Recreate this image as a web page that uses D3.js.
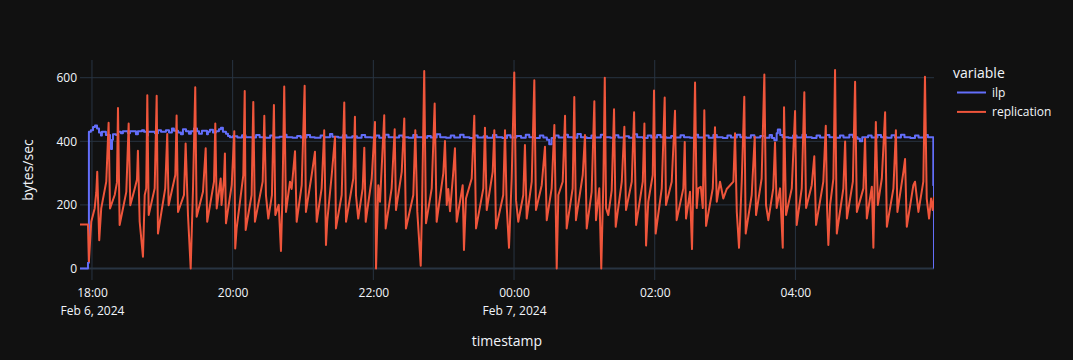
<!DOCTYPE html>
<html><head><meta charset="utf-8">
<script src="https://cdn.jsdelivr.net/npm/d3@7"></script>
<style>html,body{margin:0;padding:0;background:#111111;}svg{display:block;}</style>
</head><body>
<svg id="chart" width="1073" height="360"></svg>
<script>
// ---- DATA (minutes after 2024-02-06 18:00) ----
const seriesNames = ["ilp", "replication"];
const seriesColors = ["#636efa", "#EF553B"];

const replMinutes = [-10.2,-3.4,-2.6,-0.6,2.3,3.7,4.5,6.2,7.9,12.2,14.2,15.4,19.4,21.3,22.2,23.6,29.3,31.3,32.7,36.4,38.4,39.2,40.7,43.5,45.0,46.3,47.2,48.4,53.5,55.2,56.3,62.5,64.2,65.4,71.1,72.2,73.4,78.5,79.9,81.9,84.2,86.2,88.1,89.3,94.7,97.0,98.3,104.1,105.2,106.4,109.8,110.5,112.6,113.4,114.3,119.2,121.4,122.2,123.4,129.1,130.3,131.1,136.2,137.6,139.0,145.6,147.0,148.4,150.4,153.5,155.2,156.4,159.3,161.2,162.5,164.0,165.5,168.9,170.3,173.2,174.6,178.9,181.4,182.5,187.4,190.2,191.7,195.9,198.1,199.6,200.7,204.5,207.3,208.1,213.0,215.2,216.7,222.9,224.3,225.2,227.1,230.9,232.3,233.5,238.6,241.4,242.3,244.2,245.7,249.3,250.5,255.6,258.2,259.3,264.2,266.4,267.8,274.1,275.8,277.5,280.4,281.5,283.4,284.9,289.8,292.3,294.0,299.7,301.1,302.6,303.9,305.4,307.9,309.6,311.1,316.2,317.3,319.0,323.9,326.1,327.6,333.8,335.2,336.7,341.8,343.2,344.6,350.8,352.3,353.7,355.7,358.0,360.2,361.7,363.6,367.9,369.3,370.8,375.1,377.3,378.7,383.6,386.4,387.9,392.1,394.4,396.4,397.8,401.5,403.5,404.9,410.0,411.4,412.8,418.6,420.5,422.0,426.2,428.5,429.9,432.7,434.4,436.2,437.4,438.5,440.4,443.3,445.3,446.7,451.9,454.1,455.5,460.4,462.4,464.1,469.8,471.2,472.6,474.5,478.3,479.4,480.8,486.0,488.5,489.6,494.5,497.3,498.7,504.4,505.6,506.7,510.1,511.8,512.9,514.4,515.8,517.2,519.3,521.0,522.3,523.8,529.5,531.4,532.9,535.7,538.5,541.4,547.1,548.5,550.0,551.9,554.2,556.4,557.6,562.7,565.3,566.4,571.2,573.5,574.9,576.9,581.1,582.6,584.0,586.9,589.2,590.3,592.0,596.9,599.7,601.1,605.4,607.6,609.1,613.9,616.1,617.6,623.8,625.9,627.0,628.1,629.6,632.4,633.8,635.3,640.9,642.4,643.9,649.0,650.9,652.4,658.0,659.4,660.9,665.2,666.5,668.6,670.3,673.7,676.5,678.0,683.6,685.7,687.0,692.1,693.5,695.0,700.6,702.0,704.9,709.1,710.5,712.0,714.0,715.7,717.1,718.2];
const replValues = [138,138,23,147,189,240,304,89,189,273,458,189,231,270,505,137,241,456,199,250,280,370,147,37,231,252,545,168,252,543,110,252,423,199,294,481,178,231,393,168,0,252,570,163,241,378,147,273,456,189,283,200,280,362,142,262,432,63,126,294,558,121,231,524,147,273,480,231,157,231,514,168,200,55,231,572,178,273,250,369,147,262,575,178,294,367,147,252,435,74,150,294,414,126,231,522,147,283,477,231,157,252,380,147,283,461,0,262,210,482,126,252,438,184,304,472,126,231,435,178,9,190,621,142,252,519,147,300,401,200,250,180,290,378,147,262,58,220,283,480,126,252,443,184,304,435,126,231,435,200,65,283,616,215,147,231,388,157,273,592,184,262,383,152,252,451,0,231,273,480,126,252,539,152,294,420,126,241,526,152,252,0,273,600,190,168,246,501,131,273,446,184,273,491,137,273,456,72,210,294,560,110,252,538,200,273,496,152,252,398,157,241,61,273,585,190,252,257,190,498,134,252,444,210,273,220,250,273,425,178,65,273,540,110,231,414,168,283,610,200,152,252,396,190,252,65,507,168,252,495,137,252,554,190,262,353,137,273,449,190,74,200,283,624,110,252,399,157,273,587,178,252,409,157,257,65,461,200,283,491,131,252,435,178,304,344,131,262,273,178,273,603,220,157,220,184,226];

const ilpMinutes = [-10.2,-3.4,-2.6,-0.9,0.9,2.6,4.3,6.0,7.7,8.5,11.9,15.4,16.2,17.1,17.9,20.5,22.2,24.7,26.4,30.7,32.4,37.5,39.2,42.7,44.4,46.9,47.8,53.7,56.3,58.9,63.1,65.7,68.2,69.9,73.4,75.9,77.6,80.2,82.7,84.4,87.0,89.6,91.3,93.8,98.1,98.9,100.6,103.2,105.8,108.3,110.0,111.7,114.3,116.0,117.7,120,124,128,131,136,140,143,148,152,155,160,164,166,171,175,178,183,186,190,195,198,203,205,210,214,217,222,226,230,233,238,242,245,250,253,258,262,265,270,274,277,282,286,289,294,297,302,306,309,314,317,322,326,329,334,337,342,345,350,354,357,362,366,370,373,378,382,385,388,390,392,395,398,403,406,410,414,417,422,426,429,434,437,442,446,449,454,458,462,465,470,474,477,482,485,490,494,497,502,505,510,514,517,522,526,530,533,538,542,545,550,553,558,562,565,570,574,578,580,582,584,585,587,589,594,598,601,606,609,614,618,621,626,629,634,638,641,646,649,653,655,657,662,665,670,673,678,682,685,690,693,698,702,705,710,713,717,717.6,718.2];
const ilpValues = [0,18,430,435,445,450,440,428,418,430,420,395,376,405,422,420,430,425,432,425,432,422,432,435,430,418,430,425,435,430,435,428,440,433,428,422,438,432,424,432,440,432,424,433,422,430,436,428,432,438,443,430,424,417,413,416,412,419,413,412,420,413,411,418,412,414,421,413,411,417,412,420,413,411,418,413,423,414,412,419,412,416,411,420,413,412,418,411,421,413,412,418,413,411,420,413,411,417,412,422,413,411,418,412,421,413,410,418,412,416,411,420,413,410,419,412,417,411,421,413,410,418,412,405,391,410,418,412,421,413,411,423,413,410,418,412,421,413,411,419,412,416,411,422,413,410,418,412,420,413,411,417,412,419,413,411,421,412,418,411,420,413,410,418,412,421,413,411,419,412,417,411,420,410,403,425,437,420,413,411,418,412,421,413,410,418,412,420,413,411,418,412,421,413,408,400,413,418,412,420,413,411,419,412,421,413,410,418,412,420,413,413,262,0];

const tickMinutes = [0, 120, 240, 360, 480, 600];
const tickTimeLabels = ["18:00", "20:00", "22:00", "00:00", "02:00", "04:00"];
const tickDateLabels = ["Feb 6, 2024", "", "", "Feb 7, 2024", "", ""];
const yTicks = [0, 200, 400, 600];
const yTitle = "bytes/sec";
const xTitle = "timestamp";
const legendTitle = "variable";

// ---- CHART ----
const W = 1073, H = 360;
const M = {left: 80, right: 139, top: 60, bottom: 80};
const base = new Date(2024, 1, 6, 18, 0, 0);
const toDate = m => new Date(base.getTime() + m * 60000);

const svg = d3.select("#chart");
svg.append("rect").attr("width", W).attr("height", H).attr("fill", "#111111");

const x = d3.scaleTime()
  .domain([toDate(-10.2), toDate(718.2)])
  .range([M.left, W - M.right]);
const y = d3.scaleLinear()
  .domain([-36.2, 655.7])
  .range([H - M.bottom, M.top]);

const font = '"Open Sans", verdana, arial, sans-serif';
const textColor = "#f2f5fa";
const gridColor = "#283442";

// grid
const g = svg.append("g");
g.selectAll(".vg").data(tickMinutes).join("line")
  .attr("x1", d => x(toDate(d))).attr("x2", d => x(toDate(d)))
  .attr("y1", M.top).attr("y2", H - M.bottom)
  .attr("stroke", gridColor).attr("stroke-width", 1);
g.selectAll(".hg").data(yTicks.filter(d => d !== 0)).join("line")
  .attr("x1", M.left).attr("x2", W - M.right)
  .attr("y1", d => y(d)).attr("y2", d => y(d))
  .attr("stroke", gridColor).attr("stroke-width", 1);
// zero line
g.append("line").attr("x1", M.left).attr("x2", W - M.right)
  .attr("y1", y(0)).attr("y2", y(0))
  .attr("stroke", gridColor).attr("stroke-width", 2);

// y axis via d3.axisLeft
const yAxis = d3.axisLeft(y).tickValues(yTicks).tickSize(0).tickPadding(3);
const ya = svg.append("g").attr("transform", `translate(${M.left},0)`).call(yAxis);
ya.select(".domain").remove();
ya.selectAll("text").attr("fill", textColor).attr("font-family", font).attr("font-size", 12);

// x axis
const xAxis = d3.axisBottom(x).tickValues(tickMinutes.map(toDate)).tickSize(0).tickFormat(() => "");
const xa = svg.append("g").attr("transform", `translate(0,${H - M.bottom})`).call(xAxis);
xa.select(".domain").remove();
xa.selectAll(".tick").each(function(d, i) {
  const t = d3.select(this).append("text").attr("fill", textColor)
    .attr("font-family", font).attr("font-size", 12).attr("text-anchor", "middle");
  t.append("tspan").attr("x", 0).attr("y", 17).text(tickTimeLabels[i]);
  if (tickDateLabels[i]) t.append("tspan").attr("x", 0).attr("y", 35).text(tickDateLabels[i]);
});

// axis titles
svg.append("text").attr("x", (M.left + W - M.right) / 2).attr("y", 346)
  .attr("text-anchor", "middle").attr("fill", textColor)
  .attr("font-family", font).attr("font-size", 14).text(xTitle);
svg.append("text").attr("transform", `translate(33,${(M.top + H - M.bottom) / 2}) rotate(-90)`)
  .attr("text-anchor", "middle").attr("fill", textColor)
  .attr("font-family", font).attr("font-size", 14).text(yTitle);

// clip
svg.append("clipPath").attr("id", "clip").append("rect")
  .attr("x", M.left).attr("y", M.top).attr("width", W - M.left - M.right).attr("height", H - M.top - M.bottom);

const ilpData = ilpMinutes.map((m, i) => ({t: toDate(m), v: ilpValues[i]}));
const replData = replMinutes.map((m, i) => ({t: toDate(m), v: replValues[i]}));

const lineStep = d3.line().x(d => x(d.t)).y(d => y(d.v)).curve(d3.curveStepAfter);
const lineLin = d3.line().x(d => x(d.t)).y(d => y(d.v));

const plot = svg.append("g").attr("clip-path", "url(#clip)");
plot.append("path").datum(ilpData).attr("d", lineStep)
  .attr("fill", "none").attr("stroke", seriesColors[0]).attr("stroke-width", 2).attr("stroke-linejoin", "round");
plot.append("path").datum(replData).attr("d", lineLin)
  .attr("fill", "none").attr("stroke", seriesColors[1]).attr("stroke-width", 2).attr("stroke-linejoin", "round");

// legend
const lg = svg.append("g").attr("transform", "translate(953,0)");
lg.append("text").attr("x", 0).attr("y", 78).attr("fill", textColor)
  .attr("font-family", font).attr("font-size", 14).text(legendTitle);
seriesNames.forEach((name, i) => {
  const yy = 92.5 + i * 19.4;
  lg.append("line").attr("x1", 4).attr("x2", 33).attr("y1", yy).attr("y2", yy)
    .attr("stroke", seriesColors[i]).attr("stroke-width", 2);
  lg.append("text").attr("x", 39).attr("y", yy + 4.3).attr("fill", textColor)
    .attr("font-family", font).attr("font-size", 12).text(name);
});
</script>
</body></html>
